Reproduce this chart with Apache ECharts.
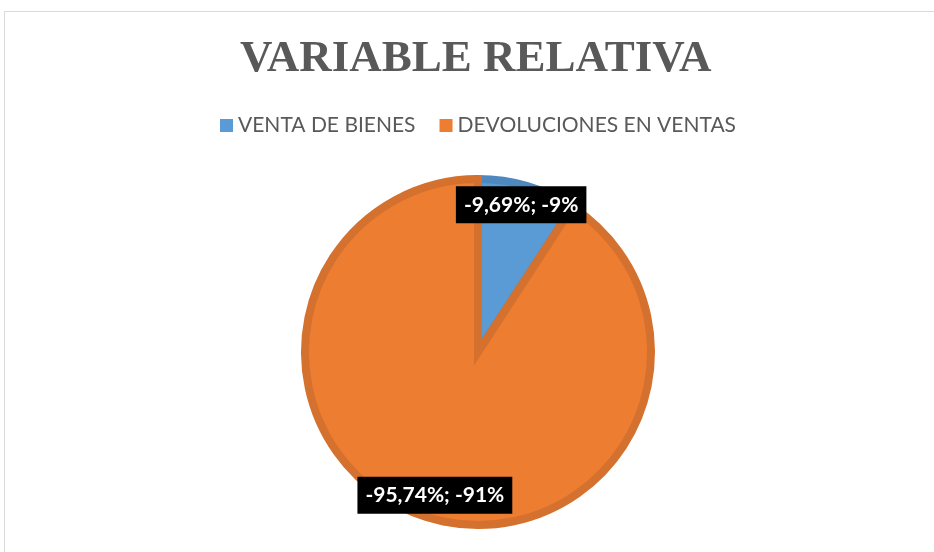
<!DOCTYPE html>
<html>
<head>
<meta charset="utf-8">
<script src="https://cdn.jsdelivr.net/npm/echarts@6/dist/echarts.min.js"></script>
<style>
	html, body { margin: 0; padding: 0; background: #fff; }
	#chart { width: 934px; height: 552px; }
</style>
</head>
<body>
<div id="chart"></div>
<script>
// data
var categories = ['VENTA DE BIENES', 'DEVOLUCIONES EN VENTAS'];
var relValues = [-9.69, -95.74];       // variable relativa (%)
var fillColors = ['#5B9BD5', '#ED7D31'];
var edgeColors = ['#4F88BF', '#D4712E'];

function fmt(v, d) {
	return v.toFixed(d).replace('.', ',');
}

function initChart() {
	var total = 0;
	for (var i = 0; i < relValues.length; i++) total += Math.abs(relValues[i]);

	var pieData = [];
	for (var i = 0; i < categories.length; i++) {
		pieData.push({
			name : categories[i],
			value : Math.abs(relValues[i]),
			rel : relValues[i],
			itemStyle : { color : fillColors[i], borderColor : edgeColors[i] }
		});
	}
	var labelData = [];
	for (var i = 0; i < categories.length; i++) {
		labelData.push({ name : categories[i], value : Math.abs(relValues[i]), rel : relValues[i] });
	}

	var option = {
		animation : false,
		title : {
			text : 'VARIABLE RELATIVA',
			left : 240,
			top : 37,
			padding : 0,
			textStyle : {
				color : '#595959',
				fontFamily : 'Liberation Serif',
				fontSize : 45,
				fontWeight : 'bold'
			}
		},
		legend : {
			top : 110,
			left : 215,
			itemWidth : 13,
			itemHeight : 13,
			itemGap : 24,
			icon : 'rect',
			data : categories,
			itemStyle : { borderWidth : 0 },
			textStyle : {
				color : '#595959',
				fontFamily : 'Lato',
				fontSize : 21
			}
		},
		graphic : [ {
			type : 'polyline',
			silent : true,
			shape : { points : [ [4.5, 560], [4.5, 11.5], [940, 11.5] ] },
			style : { stroke : '#d9d9d9', lineWidth : 1, fill : null }
		} ],
		series : [ {
			name : 'main',
			type : 'pie',
			center : [478, 352],
			radius : [0, 173],
			startAngle : 90,
			clockwise : true,
			silent : true,
			itemStyle : { borderWidth : 8, borderJoin : 'miter' },
			label : { show : false },
			labelLine : { show : false },
			data : pieData
		}, {
			name : 'labels',
			type : 'pie',
			center : [478, 350],
			radius : [120, 177],
			startAngle : 90,
			clockwise : true,
			silent : true,
			legendHoverLink : false,
			itemStyle : { color : 'rgba(0,0,0,0)' },
			label : {
				show : true,
				position : 'inside',
				formatter : function(p) {
					var pct = Math.round(p.value / total * 100);
					return fmt(p.data.rel, 2) + '%; -' + pct + '%';
				},
				color : '#fff',
				backgroundColor : '#000',
				fontFamily : 'Lato',
				fontWeight : 'bold',
				fontSize : 21,
				padding : [8, 8, 8, 8]
			},
			labelLine : { show : false },
			data : labelData
		} ]
	};

	var myChart = echarts.init(document.getElementById('chart'));
	myChart.setOption(option);
	window.myChart = myChart;
}
initChart();
</script>
</body>
</html>
